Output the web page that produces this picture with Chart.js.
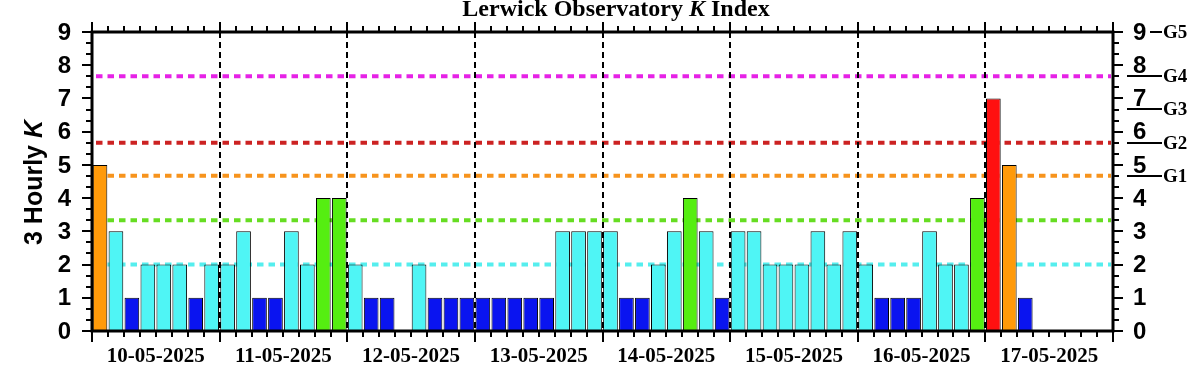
<!DOCTYPE html>
<html>
<head>
<meta charset="utf-8">
<script src="https://cdn.jsdelivr.net/npm/chart.js@4.4.1/dist/chart.umd.min.js"></script>
<style>
  html, body { margin: 0; padding: 0; background: #ffffff; }
  canvas { display: block; }
</style>
</head>
<body>
<canvas id="c" width="1203" height="375"></canvas>
<script>
// ---------- data ----------
const days = ['10-05-2025', '11-05-2025', '12-05-2025', '13-05-2025',
              '14-05-2025', '15-05-2025', '16-05-2025', '17-05-2025'];
const hours = ['00', '03', '06', '09', '12', '15', '18', '21'];
const kValues = [
  5, 3, 1, 2, 2, 2, 1, 2,
  2, 3, 1, 1, 3, 2, 4, 4,
  2, 1, 1, 0, 2, 1, 1, 1,
  1, 1, 1, 1, 1, 3, 3, 3,
  3, 1, 1, 2, 3, 4, 3, 1,
  3, 3, 2, 2, 2, 3, 2, 3,
  2, 1, 1, 1, 3, 2, 2, 4,
  7, 5, 1, null, null, null, null, null
];
const yTicks = [0, 1, 2, 3, 4, 5, 6, 7, 8, 9];
const thresholdLevels = [2, 3.33, 4.67, 5.67, 7.67];
const stormLevels = [4.67, 5.67, 6.67, 7.67, 9];
const stormLabels = ['G1', 'G2', 'G3', 'G4', 'G5'];

// ---------- styles ----------
const thresholdColors = ['#55eeee', '#66dd22', '#f7941d', '#cc2222', '#e622e6'];
function barColor(k) {
  if (k === null || k === undefined) return 'rgba(0,0,0,0)';
  if (k <= 1) return '#0a14f0';
  if (k <= 3) return '#4ff5f5';
  if (k === 4) return '#55ee11';
  if (k === 5) return '#ff9a0a';
  if (k === 6) return '#ff5500';
  return '#ff1010';
}

const slotLabels = [];
days.forEach(d => hours.forEach(h => slotLabels.push(d + ' ' + h)));
const slotsPerDay = hours.length;

const SANS = '"Liberation Sans", Arial, sans-serif';
const SERIF = '"Liberation Serif", "Times New Roman", serif';

const kPlot = {
  id: 'kPlot',
  beforeDatasetsDraw(chart) {
    const ctx = chart.ctx, a = chart.chartArea;
    const xs = chart.scales.x, ys = chart.scales.y;
    ctx.save();
    // horizontal threshold lines
    thresholdLevels.forEach((v, i) => {
      const y = ys.getPixelForValue(v);
      ctx.beginPath();
      ctx.setLineDash([6.5, 5]);
      ctx.lineWidth = 4;
      ctx.strokeStyle = thresholdColors[i];
      ctx.moveTo(a.left + 4, y);
      ctx.lineTo(a.right - 2, y);
      ctx.stroke();
    });
    // vertical day separators
    ctx.setLineDash([6, 4]);
    ctx.lineWidth = 2;
    ctx.strokeStyle = '#000';
    for (let d = 1; d < days.length; d++) {
      const x = Math.round(xs.getPixelForValue(d * slotsPerDay - 0.5));
      ctx.beginPath();
      ctx.moveTo(x, a.top);
      ctx.lineTo(x, a.bottom);
      ctx.stroke();
    }
    ctx.restore();
  },
  afterDatasetsDraw(chart) {
    const ctx = chart.ctx, a = chart.chartArea;
    const xs = chart.scales.x, ys = chart.scales.y;
    ctx.save();
    ctx.setLineDash([]);
    ctx.strokeStyle = '#000';
    ctx.fillStyle = '#000';
    // frame
    ctx.lineWidth = 3;
    ctx.strokeRect(a.left, a.top, a.right - a.left, a.bottom - a.top);
    // y ticks (major + 2 minor per unit) on both sides
    ctx.lineWidth = 2;
    const yMax = yTicks[yTicks.length - 1];
    for (let j = 0; j <= yMax * 3; j++) {
      const v = j / 3;
      const y = Math.round(ys.getPixelForValue(v));
      const len = (j % 3 === 0) ? 10 : 6;
      ctx.beginPath();
      ctx.moveTo(a.left, y); ctx.lineTo(a.left - len, y);
      ctx.moveTo(a.right, y); ctx.lineTo(a.right + len, y);
      ctx.stroke();
    }
    // x ticks (3-hourly minor, daily major) top and bottom
    for (let i = 0; i <= slotLabels.length; i++) {
      const x = Math.round(xs.getPixelForValue(i - 0.5));
      const major = i % slotsPerDay === 0;
      ctx.beginPath();
      ctx.moveTo(x, a.bottom); ctx.lineTo(x, a.bottom + (major ? 11 : 6));
      ctx.moveTo(x, a.top); ctx.lineTo(x, a.top - (major ? 10 : 6));
      ctx.stroke();
    }
    // y tick labels
    ctx.font = 'bold 24px ' + SANS;
    ctx.textBaseline = 'middle';
    yTicks.forEach(v => {
      const y = ys.getPixelForValue(v);
      ctx.textAlign = 'right';
      ctx.fillText(String(v), a.left - 21, y + 1);
      ctx.textAlign = 'left';
      ctx.fillText(String(v), a.right + 20, y + 1);
    });
    // storm level annotations
    ctx.font = 'bold 19px ' + SERIF;
    ctx.textAlign = 'left';
    ctx.lineWidth = 2;
    stormLevels.forEach((v, i) => {
      const y = Math.round(ys.getPixelForValue(v));
      const top = v >= yMax;
      const x0 = top ? a.right + 37 : a.right + 14;
      const x1 = a.right + 49;
      ctx.beginPath();
      ctx.moveTo(x0, y); ctx.lineTo(x1, y);
      ctx.stroke();
      ctx.fillText(stormLabels[i], x1 + 1, y + 1);
    });
    // x day labels
    ctx.font = 'bold 21px ' + SERIF;
    ctx.textAlign = 'center';
    ctx.textBaseline = 'middle';
    days.forEach((d, i) => {
      const x = xs.getPixelForValue(i * slotsPerDay + slotsPerDay / 2 - 0.5);
      ctx.fillText(d, x, a.bottom + 26);
    });
    // title with italic K
    const tParts = [['bold 24px ' + SERIF, 'Lerwick Observatory '], ['italic bold 24px ' + SERIF, 'K'], ['bold 24px ' + SERIF, ' Index']];
    let tw = 0;
    tParts.forEach(p => { ctx.font = p[0]; tw += ctx.measureText(p[1]).width; });
    let tx = 616 - tw / 2;
    ctx.textAlign = 'left';
    ctx.textBaseline = 'alphabetic';
    tParts.forEach(p => { ctx.font = p[0]; ctx.fillText(p[1], tx, 16); tx += ctx.measureText(p[1]).width; });
    // y axis title rotated
    const yParts = [['bold 25px ' + SANS, '3 Hourly '], ['italic bold 25px ' + SANS, 'K']];
    let yw = 0;
    yParts.forEach(p => { ctx.font = p[0]; yw += ctx.measureText(p[1]).width; });
    ctx.translate(42, (a.top + a.bottom) / 2 + 1);
    ctx.rotate(-Math.PI / 2);
    let yx = -yw / 2;
    yParts.forEach(p => { ctx.font = p[0]; ctx.fillText(p[1], yx, 0); yx += ctx.measureText(p[1]).width; });
    ctx.restore();
  }
};

new Chart(document.getElementById('c'), {
  type: 'bar',
  data: {
    labels: slotLabels,
    datasets: [{
      data: kValues,
      backgroundColor: kValues.map(barColor),
      borderColor: '#000',
      borderWidth: 1,
      barPercentage: 0.92,
      categoryPercentage: 1
    }]
  },
  options: {
    responsive: false,
    devicePixelRatio: 1,
    animation: false,
    layout: { padding: { left: 92, right: 90, top: 32, bottom: 44 } },
    plugins: { legend: { display: false }, tooltip: { enabled: false }, title: { display: false } },
    scales: {
      x: { display: false, offset: true },
      y: { display: false, min: 0, max: 9 }
    }
  },
  plugins: [kPlot]
});
</script>
</body>
</html>
